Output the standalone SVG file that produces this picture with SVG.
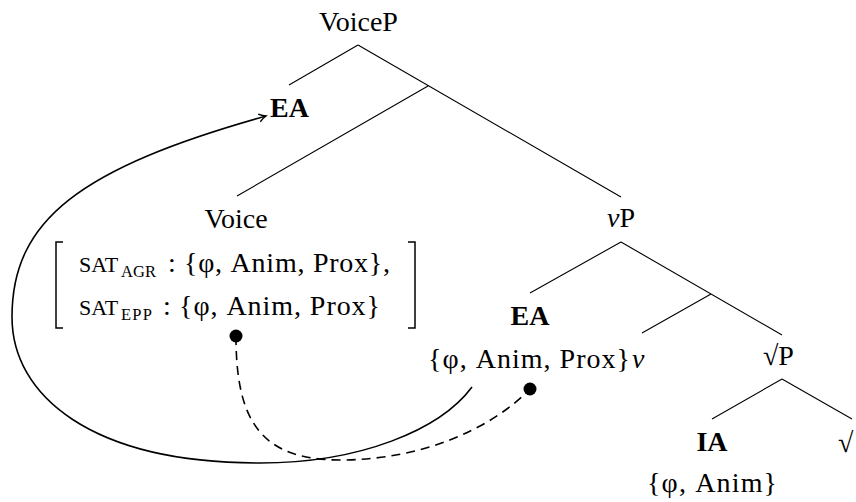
<svg xmlns="http://www.w3.org/2000/svg" width="856" height="502" viewBox="0 0 856 502">
<defs>
<style>
text{font-family:"Liberation Serif","DejaVu Serif",serif;font-size:28px;fill:#000}
.b{font-weight:bold}
.it{font-style:italic}
.sc{font-size:22px}
.sub{font-size:16.5px}
.mid{text-anchor:middle}
.edge{stroke:#000;stroke-width:1.1;fill:none}
.curve{stroke:#000;stroke-width:1.6;fill:none}
.dash{stroke-dasharray:9,6}
.brk{stroke:#000;stroke-width:1.5;fill:none}
</style>
<marker id="arr" markerUnits="userSpaceOnUse" markerWidth="14" markerHeight="14" viewBox="-10 -7 14 14" refX="0" refY="0" orient="auto">
<path d="M-7,-4 Q-3,-1 0,0 Q-3,1 -7,4" stroke="#000" stroke-width="1.4" fill="none"/>
</marker>
</defs>
<rect width="856" height="502" fill="#fff"/>
<g id="edges">
<path class="edge" d="M358,45 L289,85 M358,45 L621,197 M428,86 L237,196"/>
<path class="edge" d="M621,242 L530,293 M621,242 L782,335 M711,294 L642,333"/>
<path class="edge" d="M782,379 L712,419 M782,379 L852,419"/>
</g>
<g id="connectors">
<path class="curve" d="M472,387 C440,430 360,463 260,463 C90,463 12,395 12,317 C12,220 80,168 266,116" marker-end="url(#arr)"/>
<path class="curve dash" d="M236,336 C236,420 260,460 340,460 C420,460 490,430 530,389"/>
<circle cx="236" cy="336" r="6.5" fill="#000"/>
<circle cx="530" cy="389" r="6.5" fill="#000"/>
</g>
<g id="voiceP"><text class="mid" x="358.5" y="31">VoiceP</text></g>
<g id="EA-top"><text class="b mid" x="289.5" y="117">EA</text></g>
<g id="voice">
<text class="mid" x="236" y="228">Voice</text>
<path class="brk" d="M63,242 H56 V328 H63"/>
<path class="brk" d="M408,242 H415 V328 H408"/>
<text x="79" y="272"><tspan class="sc">SAT</tspan><tspan class="sub" x="121" y="277" textLength="35">AGR</tspan><tspan x="168" y="272">:</tspan></text>
<text x="184" y="272" textLength="206" lengthAdjust="spacing">{φ, Anim, Prox},</text>
<text x="79" y="315"><tspan class="sc">SAT</tspan><tspan class="sub" x="121" y="320" textLength="31">EPP</tspan><tspan x="163" y="315">:</tspan></text>
<text x="179" y="315" textLength="201" lengthAdjust="spacing">{φ, Anim, Prox}</text>
</g>
<g id="vP"><text x="607" y="227"><tspan class="it">ν</tspan>P</text></g>
<g id="EA-mid">
<text class="b mid" x="530" y="325">EA</text>
<text x="428" y="368" textLength="202" lengthAdjust="spacing">{φ, Anim, Prox}</text>
</g>
<g id="v"><text class="it" x="632" y="368">ν</text></g>
<g id="rootP"><text x="763" y="365">√P</text></g>
<g id="IA">
<text class="b mid" x="712" y="451">IA</text>
<text class="mid" x="712" y="492" textLength="130" lengthAdjust="spacing">{φ, Anim}</text>
</g>
<g id="root"><text x="838" y="452">√</text></g>
</svg>
